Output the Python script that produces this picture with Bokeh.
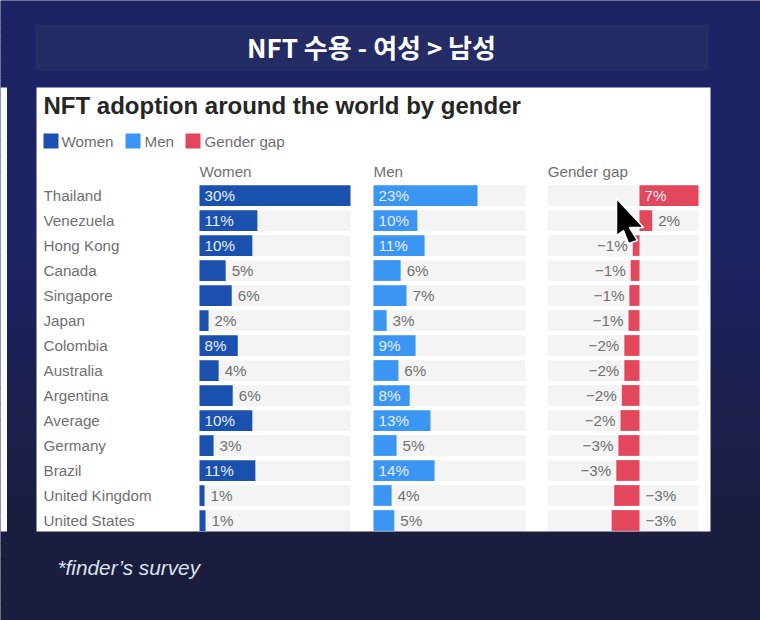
from bokeh.core.properties import value
from bokeh.embed import file_html
from bokeh.models import ColumnDataSource, Range1d
from bokeh.plotting import figure
from bokeh.resources import INLINE

countries = ['Thailand', 'Venezuela', 'Hong Kong', 'Canada', 'Singapore', 'Japan', 'Colombia',
             'Australia', 'Argentina', 'Average', 'Germany', 'Brazil', 'United Kingdom', 'United States']
women = [30, 11.5, 10.5, 5.2, 6.4, 1.8, 7.6, 3.8, 6.6, 10.5, 2.8, 11.1, 1.0, 1.2]
men = [23, 9.7, 11.3, 6.0, 7.3, 2.9, 9.3, 5.5, 8.0, 12.6, 5.1, 13.5, 4.0, 4.6]
gap = [7, 1.5, -0.8, -1.05, -1.2, -1.3, -1.8, -1.8, -2.1, -2.25, -2.5, -2.75, -3.0, -3.3]
women_labels = ['30%', '11%', '10%', '5%', '6%', '2%', '8%', '4%', '6%', '10%', '3%', '11%', '1%', '1%']
men_labels = ['23%', '10%', '11%', '6%', '7%', '3%', '9%', '6%', '8%', '13%', '5%', '14%', '4%', '5%']
gap_labels = ['7%', '2%', '−1%', '−1%', '−1%', '−1%', '−2%', '−2%', '−2%', '−2%', '−3%', '−3%', '−3%', '−3%']

WOMEN_COLOR = '#1b51ae'
MEN_COLOR = '#3a96f2'
GAP_COLOR = '#e2475b'
TRACK = '#f4f4f4'
LABEL = '#707070'
FONT = value('Liberation Sans')
TEXT_SIZE = '15.2px'

# the figure's default ranges are simply page pixels
W, H = 760, 620
p = figure(width=W, height=H, x_range=Range1d(0, W), y_range=Range1d(H, 0),
           output_backend='svg', toolbar_location=None, min_border=0,
           x_axis_location=None, y_axis_location=None)
p.grid.visible = False
p.outline_line_color = None
p.background_fill_color = '#1a1f4e'
p.border_fill_color = '#1a1f4e'


def lerp_color(c0, c1, t):
    return '#%02x%02x%02x' % tuple(round(a + (b - a) * t) for a, b in zip(c0, c1))


# background gradient
steps = 40
for i in range(steps):
    top = i * H / steps
    t = max(0, (i / (steps - 1) - 0.35) / 0.5)
    p.quad(left=0, right=W, top=top, bottom=top + H / steps + 1,
           color=lerp_color((28, 36, 102), (26, 29, 62), min(t, 1)), line_color=None)

p.quad(left=35, right=708, top=24, bottom=70, color='#242c66', line_color=None)
p.quad(left=0, right=6.5, top=87, bottom=531, color='#fafafa', line_color=None)
p.quad(left=36, right=710, top=87, bottom=531, color='#ffffff', line_color=None)


def label(x, y, text, size, color=LABEL, style='normal', align='left', font=FONT):
    p.text([x], [y], text=[text], text_font=font, text_font_size=size, text_color=color,
           text_font_style=style, text_align=align, text_baseline='middle')


label(371, 46, 'NFT 수용 - 여성 > 남성', '26px', '#ffffff', 'bold', 'center', value('Noto Sans CJK KR'))
label(43, 105, 'NFT adoption around the world by gender', '24px', '#262626', 'bold')
label(57, 567, '*finder’s survey', '20.8px', '#dde1ec', 'italic')

for sx, color, name, tx in [(43, WOMEN_COLOR, 'Women', 61), (125, MEN_COLOR, 'Men', 144),
                            (185, GAP_COLOR, 'Gender gap', 204)]:
    p.quad(left=sx, right=sx + 15, top=133, bottom=148, color=color, line_color=None)
    label(tx, 140.5, name, TEXT_SIZE)

# rows: index scale, 25px pitch, first row centred on page y=195
ROW_Y, PITCH = 195, 25
p.extra_y_ranges['rows'] = Range1d((H - ROW_Y) / PITCH, -ROW_Y / PITCH)
rows = list(range(len(countries)))
p.text(x=[43] * len(rows), y=rows, text=countries, y_range_name='rows', text_font=FONT,
       text_font_size=TEXT_SIZE, text_color=LABEL, text_baseline='middle')


def panel(name, heading, values, labels, color, zero_px, px_per_unit, track, inside, left_side=()):
    p.extra_x_ranges[name] = Range1d(-zero_px / px_per_unit, (W - zero_px) / px_per_unit)
    track_px = zero_px + track[0] * px_per_unit
    label(track_px, 171, heading, TEXT_SIZE)

    src = ColumnDataSource(dict(y=rows, v=values, zero=[0] * len(rows),
                                lo=[track[0]] * len(rows), hi=[track[1]] * len(rows)))
    kw = dict(source=src, x_range_name=name, y_range_name='rows', height=0.83, line_color=None)
    p.hbar(y='y', left='lo', right='hi', color=TRACK, **kw)
    p.hbar(y='y', left='zero', right='v', color=color, **kw)

    xs, offsets, aligns, colors = [], [], [], []
    for i, v in enumerate(values):
        if i in inside:
            xs.append(0)
            offsets.append(5)
            aligns.append('left')
            colors.append('#e6eefc')
        elif i in left_side:
            xs.append(v)
            offsets.append(-5)
            aligns.append('right')
            colors.append(LABEL)
        else:
            xs.append(max(v, 0))
            offsets.append(6)
            aligns.append('left')
            colors.append(LABEL)
    text_src = ColumnDataSource(dict(x=xs, y=rows, t=labels, dx=offsets, a=aligns, c=colors))
    p.text(x='x', y='y', text='t', x_offset='dx', text_align='a', text_color='c', source=text_src,
           x_range_name=name, y_range_name='rows', text_font=FONT, text_font_size=TEXT_SIZE,
           text_baseline='middle')


panel('women', 'Women', women, women_labels, WOMEN_COLOR, 199, 151 / 30, (0, 30),
      inside=(0, 1, 2, 6, 9, 11))
panel('men', 'Men', men, men_labels, MEN_COLOR, 373, 104 / 23, (0, 33.6),
      inside=(0, 1, 2, 6, 8, 9, 11))
panel('gap', 'Gender gap', gap, gap_labels, GAP_COLOR, 639, 59 / 7, (-10.9, 7),
      inside=(0,), left_side=tuple(range(2, 12)))

# mouse pointer sitting on the slide
p.patch([616, 643, 629, 637, 628, 623, 616], [198, 227, 227, 240, 243, 230, 235],
        color='#000000', line_color='#ffffff', line_width=1.5)

open('out.html', 'w').write(file_html(p, INLINE))
